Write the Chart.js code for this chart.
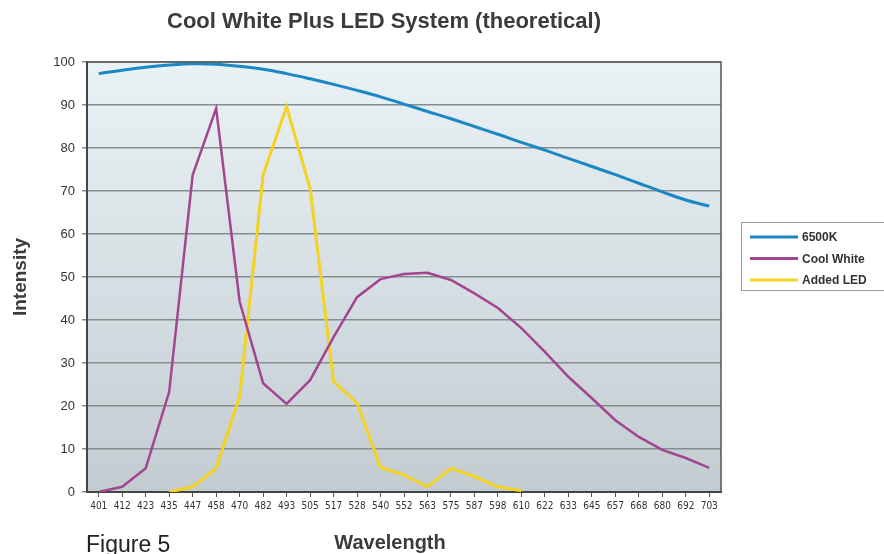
<!DOCTYPE html>
<html>
<head>
<meta charset="utf-8">
<title>Cool White Plus LED System (theoretical)</title>
<script src="https://cdn.jsdelivr.net/npm/chart.js@4/dist/chart.umd.min.js"></script>
<style>
  html, body { margin: 0; padding: 0; background: #fff; }
  #wrap { width: 884px; height: 554px; position: relative; }
</style>
</head>
<body>
<div id="wrap"><canvas id="spectrum-chart" width="884" height="554"></canvas></div>
<script>
// wavelength categories (nm)
const wavelengths = ['401', '412', '423', '435', '447', '458', '470', '482', '493', '505', '517', '528', '540', '552',
    '563', '575', '587', '598', '610', '622', '633', '645', '657', '668', '680', '692', '703'];

// series values
const d6500K = [97.3, 98.1, 98.8, 99.3, 99.6, 99.5, 99.0, 98.3, 97.3, 96.1, 94.8, 93.4, 91.9, 90.2,
    88.5, 86.8, 85.0, 83.2, 81.3, 79.5, 77.6, 75.7, 73.8, 71.8, 69.8, 67.9, 66.5];
const coolWhite = [0, 1.2, 5.5, 23.3, 73.7, 89.2, 44.3, 25.3, 20.5, 26.0, 36.0, 45.3, 49.5, 50.7,
    51.0, 49.3, 46.2, 42.8, 38.1, 32.6, 26.8, 21.8, 16.7, 12.8, 9.8, 7.9, 5.6];
const addedLed = [null, null, null, 0, 1.2, 5.5, 22.2, 73.7, 89.6, 70.6, 25.7, 20.7, 5.7, 4.0,
    1.2, 5.5, 3.6, 1.2, 0.3, null, null, null, null, null, null, null, null];

const yTicks = { min: 0, max: 100, step: 10 };

const seriesNames = ['6500K', 'Cool White', 'Added LED'];
const seriesColors = ['#1b87c4', '#a2468f', '#f4d21e'];

// plot background + frame, title, captions and legend
const decorPlugin = {
    id: 'decor',
    beforeDraw(chart) {
        const { ctx, chartArea: a } = chart;
        const g = ctx.createLinearGradient(0, a.top, 0, a.bottom);
        g.addColorStop(0, '#eaf2f6');
        g.addColorStop(1, '#c3ccd1');
        ctx.save();
        ctx.fillStyle = g;
        ctx.fillRect(a.left, a.top, a.right - a.left, a.bottom - a.top);
        ctx.restore();
    },
    afterDraw(chart) {
        const { ctx, chartArea: a } = chart;
        ctx.save();
        // top / right frame
        ctx.strokeStyle = '#555';
        ctx.lineWidth = 1.5;
        ctx.beginPath();
        ctx.moveTo(a.left, a.top);
        ctx.lineTo(a.right, a.top);
        ctx.lineTo(a.right, a.bottom);
        ctx.stroke();

        // title
        ctx.fillStyle = '#3a3a3f';
        ctx.textAlign = 'center';
        ctx.textBaseline = 'middle';
        ctx.font = 'bold 22px "Liberation Sans", Arial, sans-serif';
        ctx.fillText('Cool White Plus LED System (theoretical)', 384, 22);

        // x axis title
        ctx.font = 'bold 20px "Liberation Sans", Arial, sans-serif';
        ctx.fillText('Wavelength', 390, 543);

        // figure caption
        ctx.fillStyle = '#222';
        ctx.textAlign = 'left';
        ctx.textBaseline = 'alphabetic';
        ctx.font = '23px "Liberation Sans", Arial, sans-serif';
        ctx.fillText('Figure 5', 86, 552);

        // legend
        const lx = 741, ly = 222, lw = 150, lh = 68;
        ctx.fillStyle = '#fff';
        ctx.fillRect(lx, ly, lw, lh);
        ctx.strokeStyle = '#999';
        ctx.lineWidth = 1;
        ctx.strokeRect(lx + 0.5, ly + 0.5, lw, lh);
        ctx.textBaseline = 'middle';
        ctx.font = 'bold 12px "Liberation Sans", Arial, sans-serif';
        chart.data.datasets.forEach((ds, i) => {
            const y = ly + 15 + i * 21.5;
            ctx.strokeStyle = ds.borderColor;
            ctx.lineWidth = 3;
            ctx.beginPath();
            ctx.moveTo(lx + 9, y);
            ctx.lineTo(lx + 57, y);
            ctx.stroke();
            ctx.fillStyle = '#333';
            ctx.fillText(ds.label, lx + 61, y + 1);
        });
        ctx.restore();
    }
};

new Chart(document.getElementById('spectrum-chart'), {
    type: 'line',
    data: {
        labels: wavelengths,
        datasets: [
            { label: seriesNames[0], data: d6500K, borderColor: seriesColors[0], borderWidth: 3, tension: 0.4 },
            { label: seriesNames[1], data: coolWhite, borderColor: seriesColors[1], borderWidth: 2.5, tension: 0 },
            { label: seriesNames[2], data: addedLed, borderColor: seriesColors[2], borderWidth: 3, tension: 0 }
        ]
    },
    plugins: [decorPlugin],
    options: {
        responsive: false,
        animation: false,
        layout: { padding: { left: 0, right: 163, top: 62, bottom: 0 } },
        elements: { point: { radius: 0 } },
        plugins: {
            legend: { display: false },
            tooltip: { enabled: false }
        },
        scales: {
            x: {
                type: 'category',
                offset: true,
                grid: { drawOnChartArea: false, drawTicks: true, tickLength: 5, color: '#555' },
                border: { color: '#444', width: 2 },
                ticks: {
                    color: '#333',
                    autoSkip: false,
                    maxRotation: 0,
                    padding: 3,
                    font: { family: '"Liberation Sans Narrow", "DejaVu Sans Condensed", "Roboto Condensed", Roboto, sans-serif', size: 10 }
                },
                afterFit(scale) { scale.height = 62; }
            },
            y: {
                min: yTicks.min,
                max: yTicks.max,
                grid: { color: '#858d91', lineWidth: 1.5, tickLength: 5, drawTicks: true },
                border: { color: '#444', width: 2 },
                ticks: {
                    stepSize: yTicks.step,
                    color: '#333',
                    padding: 7,
                    font: { family: '"Liberation Sans", Arial, sans-serif', size: 13 }
                },
                title: {
                    display: true,
                    text: 'Intensity',
                    color: '#3a3a3f',
                    font: { family: '"Liberation Sans", Arial, sans-serif', size: 19, weight: 'bold' },
                    padding: { top: 9, bottom: 0 }
                },
                afterFit(scale) { scale.width = 87; }
            }
        }
    }
});
</script>
</body>
</html>
